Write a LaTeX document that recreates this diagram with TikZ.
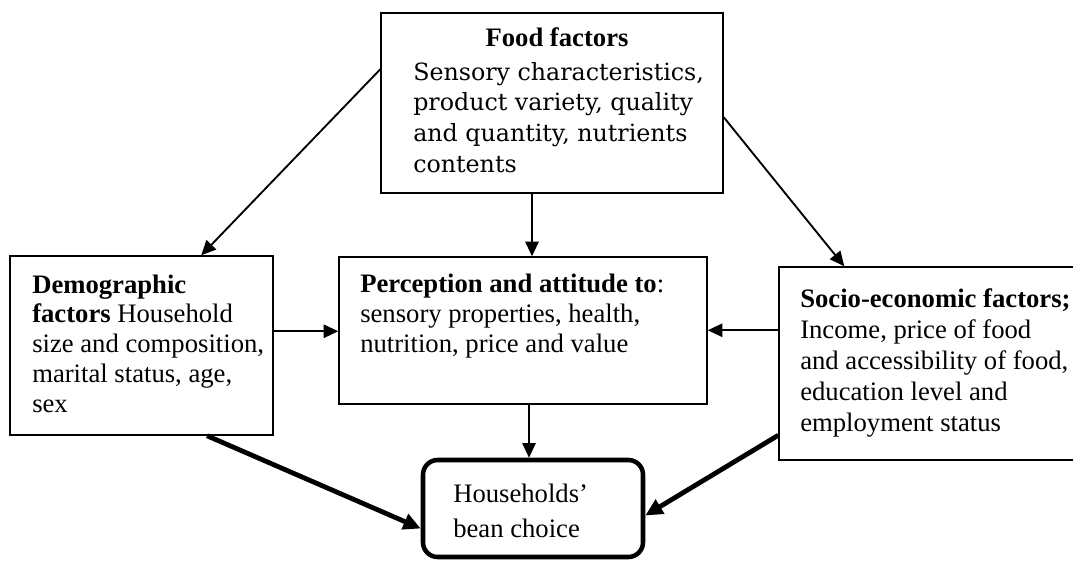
\documentclass[tikz,border=0pt]{standalone}
\usepackage{fontspec}
\setmainfont{Liberation Serif}
\newfontfamily\bookfont{DejaVu Serif}
\usetikzlibrary{arrows.meta,calc}

\begin{document}
\begin{tikzpicture}[x=0.75pt,y=-0.75pt,
  box/.style={draw,line width=1.1pt,rectangle,inner sep=0pt},
  choicebox/.style={draw,line width=3.4pt,rectangle,rounded corners=11pt,inner sep=0pt},
  txt/.style={inner sep=0pt,anchor=base west},
  link/.style={line width=1.4pt,-{Triangle[length=11pt,width=10pt]}},
  heavy/.style={line width=3.6pt,-{Triangle[length=13pt,width=12pt]}}]

\useasboundingbox (0,0) rectangle (1073,560);

% boxes
\node[box,minimum width=342*0.75pt,minimum height=180*0.75pt] (food)  at (552,103) {};
\node[box,minimum width=263*0.75pt,minimum height=179*0.75pt] (demo)  at (141.5,345.5) {};
\node[box,minimum width=368*0.75pt,minimum height=147*0.75pt] (perc)  at (523,330.5) {};
\node[box,minimum width=306*0.75pt,minimum height=193*0.75pt] (socio) at (932,363.5) {};
\node[choicebox,minimum width=220*0.75pt,minimum height=97*0.75pt] (house) at (533,508.5) {};

% texts
\node[txt,anchor=base] (foodhead) at (557,47)
  {\fontsize{20}{23}\selectfont\bfseries Food factors};
\node[txt] (foodbody) at (413,80)
  {\parbox[t]{320pt}{\bookfont\fontsize{17.8}{23}\selectfont
   Sensory characteristics,\\ product variety, quality\\ and quantity, nutrients\\ contents}};

\node[txt] (demotext) at (32,293)
  {\parbox[t]{220pt}{\fontsize{20}{22.4}\selectfont
   \textbf{Demographic}\\ \textbf{factors} Household\\ size and composition,\\ marital status, age,\\ sex}};

\node[txt] (perctext) at (360,292)
  {\parbox[t]{260pt}{\fontsize{20}{22.5}\selectfont
   \textbf{Perception and attitude to}:\\ sensory properties, health,\\ nutrition, price and value}};

\node[txt] (sociotext) at (800,307)
  {\parbox[t]{220pt}{\fontsize{20}{23.4}\selectfont
   \textbf{Socio-economic factors;}\\ Income, price of food\\ and accessibility of food,\\ education level and\\ employment status}};

\node[txt] (housetext) at (453,502)
  {\parbox[t]{150pt}{\fontsize{20}{26.25}\selectfont
   Households’\\ bean choice}};

% connectors
\draw[link] ($(food.north west)+(0,57)$) -- ($(demo.north west)+(192,0)$);
\draw[link] ($(food.north east)+(0,105)$) -- ($(socio.north west)+(66,0)$);
\draw[link] ($(food.south)+(-20,0)$) coordinate (fb) -- (fb |- perc.north);
\draw[link] ($(demo.north east)+(0,76)$) -- ($(perc.north west)+(0,75)$);
\draw[link] ($(socio.north west)+(0,64)$) -- ($(perc.north east)+(0,74)$);
\draw[link] ($(perc.south)+(6,0)$) coordinate (pb) -- (pb |- house.north);
\draw[heavy] ($(demo.south)+(65.5,0)$) -- ($(house.west)+(0,20)$);
\draw[heavy] ($(socio.north west)+(0,169)$) -- ($(house.east)+(0,7)$);
\end{tikzpicture}
\end{document}
